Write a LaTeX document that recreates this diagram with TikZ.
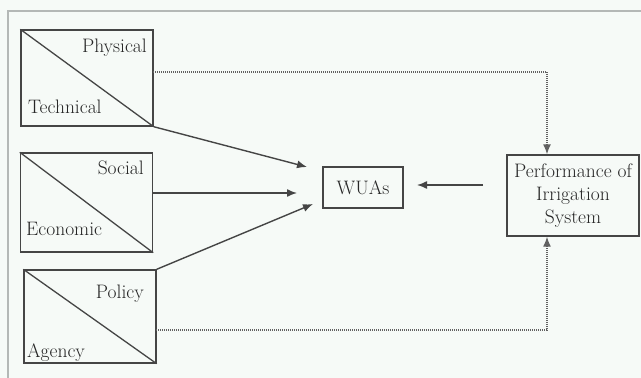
\documentclass[tikz,border=0pt]{standalone}
\usepackage{fontspec}
\usetikzlibrary{arrows.meta}
\definecolor{paper}{HTML}{F6FAF7}
\definecolor{framegray}{HTML}{B4B8B6}
\definecolor{ink}{HTML}{454545}
\definecolor{txt}{HTML}{262626}
\tikzset{
  factor/.style={draw=ink, line width=1.4pt, minimum width=132pt, inner sep=0pt},
  plainbox/.style={draw=ink, line width=1.4pt, inner sep=0pt},
  lbl/.style={text=txt, inner sep=0pt, font=\fontsize{19.5}{23}\selectfont},
  solidarrow/.style={draw=ink, line width=1.4pt, -{Latex[length=10pt,width=8pt]}},
  dotarrow/.style={draw=ink!85, line width=1.4pt, dash pattern=on 1pt off 1pt, -{Latex[length=10pt,width=8pt]}},
}
\begin{document}
\begin{tikzpicture}[x=1pt,y=-1pt]
\useasboundingbox (0,0) rectangle (641,378);
\clip (0,0) rectangle (641,378);
\fill[paper] (0,0) rectangle (641,378);
% outer frame running off the page to the right and bottom
\draw[framegray, line width=1.2pt] (8,400) -- (8,11) -- (660,11);

% the three groups of factors
\node[factor, minimum height=96pt] (b1) at (87,78) {};
\node[factor, minimum height=99pt] (b2) at (86.5,202.5) {};
\node[factor, minimum height=93pt] (b3) at (90,316.5) {};
\foreach \b in {b1,b2,b3}
  \draw[ink, line width=1.3pt] (\b.north west) -- (\b.south east);

\node[lbl, anchor=base east] (t1a) at (147,52) {Physical};
\node[lbl, anchor=base west] (t1b) at (28,113) {Technical};
\node[lbl, anchor=base east] (t2a) at (144,174) {Social};
\node[lbl, anchor=base west] (t2b) at (26,235) {Economic};
\node[lbl, anchor=base east] (t3a) at (144,298) {Policy};
\node[lbl, anchor=base west] (t3b) at (27,357) {Agency};

% central and outcome boxes
\node[plainbox, minimum width=80pt, minimum height=41pt] (wua) at (363,187.5) {};
\node[lbl, anchor=base] (wuat) at (363,194) {WUAs};
\node[plainbox, minimum width=132pt, minimum height=81pt] (perf) at (573,195.5) {};
\node[lbl, align=center, anchor=center] (perft) at (perf.center)
  {Performance of\\Irrigation\\System};

% free ends of the solid arrows
\coordinate (e1) at (307,167);
\coordinate (s2) at (153,193);
\coordinate (e2) at (297,193);
\coordinate (e3) at (313,204);
\coordinate (s4) at (483,185);
\coordinate (e4) at (417,185);

\draw[solidarrow] (b1.south east) -- (e1);
\draw[solidarrow] (s2) -- (e2);
\draw[solidarrow] (b3.north east) -- (e3);
\draw[solidarrow] (s4) -- (e4);

% dotted feedback paths into the performance box
\coordinate (d1) at (153,72);
\coordinate (d2) at (156,330);
\draw[dotarrow] (d1) -| ([xshift=-26pt]perf.north);
\draw[dotarrow] (d2) -| ([xshift=-26pt]perf.south);
\end{tikzpicture}
\end{document}
